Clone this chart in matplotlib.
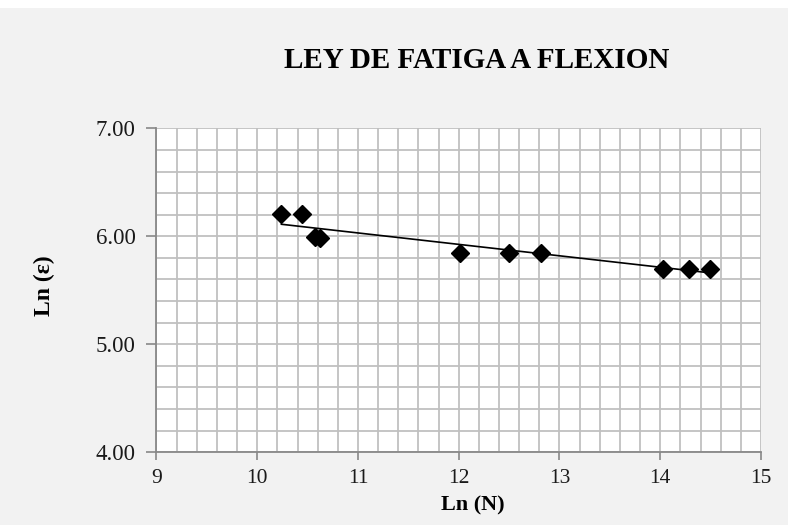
import numpy as np
import matplotlib
matplotlib.use("Agg")
import matplotlib.pyplot as plt
from matplotlib.ticker import MultipleLocator, FormatStrFormatter
from matplotlib.patches import Rectangle

# datos: Ln(N) y Ln(deformacion)
ln_n = [10.24, 10.44, 10.57, 10.62, 12.01, 12.50, 12.82, 14.03, 14.29, 14.49]
ln_e = [6.21, 6.21, 5.99, 5.98, 5.85, 5.85, 5.85, 5.70, 5.70, 5.70]

titulo = "LEY DE FATIGA A FLEXION"
x_label = "Ln (N)"
y_label = "Ln (ε)"

plt.rcParams['font.family'] = ['Liberation Serif', 'DejaVu Serif']

fig = plt.figure(figsize=(7.88, 5.25), dpi=100)
fig.patch.set_facecolor('#f2f2f2')
# franja blanca arriba
fig.patches.append(Rectangle((0, 1 - 8 / 525), 1, 8 / 525, transform=fig.transFigure,
                             facecolor='white', edgecolor='none'))

ax = fig.add_axes([0.1986, 0.1385, 0.7671, 0.6171])
ax.set_facecolor('white')

ax.plot(ln_n, ln_e, 'D', color='black', markersize=9, zorder=3)

# linea de tendencia lineal
a, b = np.polyfit(ln_n, ln_e, 1)
xs = np.array([min(ln_n), max(ln_n)])
ax.plot(xs, a * xs + b, color='black', linewidth=1.2, zorder=2)

ax.set_xlim(9, 15)
ax.set_ylim(4, 7)
ax.xaxis.set_major_locator(MultipleLocator(1))
ax.xaxis.set_minor_locator(MultipleLocator(0.2))
ax.yaxis.set_major_locator(MultipleLocator(1))
ax.yaxis.set_minor_locator(MultipleLocator(0.2))
ax.yaxis.set_major_formatter(FormatStrFormatter('%.2f'))

ax.grid(which='both', color='#c0c0c0', linewidth=1.3)
ax.set_axisbelow(True)
ax.tick_params(which='minor', length=0)
ax.tick_params(which='major', width=1.2, color='#888888', labelcolor='#1a1a1a')
ax.tick_params(axis='y', which='major', length=7, pad=8, labelsize=16.5)
ax.tick_params(axis='x', which='major', length=6, pad=6, labelsize=15.5)

for s in ['top', 'right']:
    ax.spines[s].set_visible(False)
for s in ['left', 'bottom']:
    ax.spines[s].set_color('#888888')
    ax.spines[s].set_linewidth(1.3)

fig.text(0.5997, 1 - 505 / 525, x_label, fontsize=16, fontweight='bold', ha='center', va='center')
fig.text(44 / 788, 1 - 286 / 525, y_label, fontsize=17, fontweight='bold', ha='center', va='center',
         rotation=90)
fig.text(0.605, 1 - 61 / 525, titulo, fontsize=21, fontweight='bold', ha='center', va='center')

fig.savefig("out.png", dpi=100, facecolor=fig.get_facecolor())
